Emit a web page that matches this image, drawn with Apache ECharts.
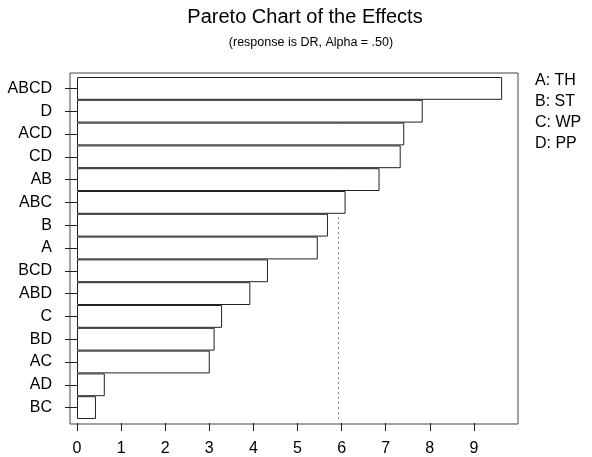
<!DOCTYPE html>
<html>
<head>
<meta charset="utf-8">
<script src="https://cdn.jsdelivr.net/npm/echarts@6/dist/echarts.min.js"></script>
<style>
html,body{margin:0;padding:0;background:#fff;}
#chart{width:592px;height:457px;}
</style>
</head>
<body>
<div id="chart"></div>
<script>
// ---- data ----
var categories = ['ABCD','D','ACD','CD','AB','ABC','B','A','BCD','ABD','C','BD','AC','AD','BC'];
var effects    = [9.64, 7.84, 7.42, 7.34, 6.86, 6.09, 5.69, 5.46, 4.33, 3.93, 3.29, 3.12, 3.01, 0.63, 0.43];
var referenceValue = 5.93;
var xTicks = [0,1,2,3,4,5,6,7,8,9];
var factorLegend = ['A: TH', 'B: ST', 'C: WP', 'D: PP'];
var titleText = 'Pareto Chart of the Effects';
var subtitleText = '(response is DR, Alpha = .50)';

var FONT = '"Liberation Sans", Arial, sans-serif';
var chart = echarts.init(document.getElementById('chart'), null, {renderer:'canvas'});

var legendGraphics = factorLegend.map(function(t, i){
  return {type:'text', left: 535, top: 73 + i*20.7,
    style:{text:t, font:'16px ' + FONT, fill:'#000'}};
});

chart.setOption({
  animation:false,
  backgroundColor:'#fff',
  graphic: [
    {type:'text', x:305, y:17, style:{text:titleText, font:'20px ' + FONT, fill:'#000', textAlign:'center', textVerticalAlign:'middle'}},
    {type:'text', x:311, y:43, style:{text:subtitleText, font:'12.5px ' + FONT, fill:'#000', textAlign:'center', textVerticalAlign:'middle'}}
  ].concat(legendGraphics),
  grid:[
    {left:70, right:74, top:73, bottom:33, show:true, borderColor:'#444', borderWidth:1, backgroundColor:'transparent'},
    {left:77, right:74, top:77, bottom:37}
  ],
  xAxis:[
    {gridIndex:0, type:'value', min:0, max:1, show:false},
    {gridIndex:1, type:'value', min:0, max:10, interval:1, offset:4,
      axisLine:{show:false},
      splitLine:{show:false},
      axisTick:{show:true, length:8, lineStyle:{color:'#222', width:1}, customValues:xTicks},
      axisLabel:{color:'#000', fontSize:16, fontFamily:FONT, margin:18, customValues:xTicks}
    }
  ],
  yAxis:[
    {gridIndex:0, type:'value', min:0, max:1, show:false},
    {gridIndex:1, type:'category', data:categories, inverse:true, offset:7,
      axisLine:{show:false},
      axisTick:{show:true, length:12, alignWithLabel:true, lineStyle:{color:'#222', width:1}},
      axisLabel:{color:'#000', fontSize:16, fontFamily:FONT, margin:18, padding:[0,0,6,0]},
      splitLine:{show:false}
    }
  ],
  series:[
    {type:'bar', xAxisIndex:1, yAxisIndex:1, data:effects, z:2,
      barWidth:'100%', barCategoryGap:'0%',
      itemStyle:{color:'#fff', borderColor:'#222', borderWidth:1},
      markLine:{z:1, silent:true, symbol:['none','none'],
        label:{show:false},
        lineStyle:{type:[2,3], color:'#888', width:1},
        data:[{xAxis:referenceValue}]
      }
    }
  ]
});
</script>
</body>
</html>
